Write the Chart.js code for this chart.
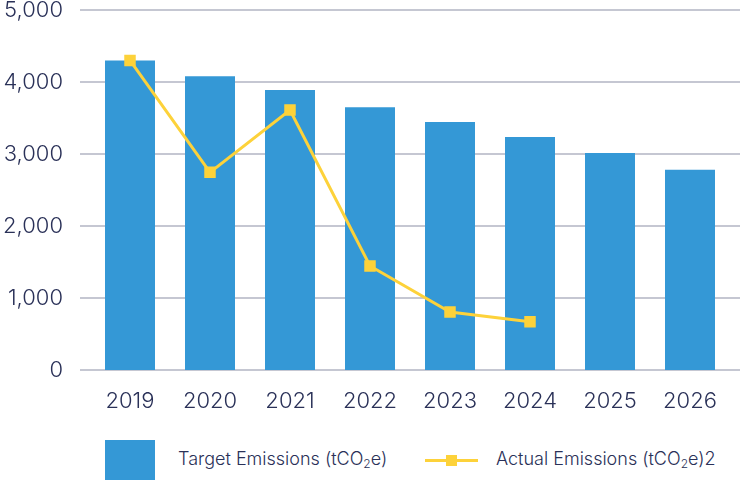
<!DOCTYPE html>
<html>
<head>
<meta charset="utf-8">
<script src="https://cdn.jsdelivr.net/npm/chart.js@4"></script>
<style>
  body { margin: 0; background: #fff; width: 740px; height: 480px; overflow: hidden; position: relative; font-family: Inter, sans-serif; }
  #wrap { position: absolute; left: 0; top: 0; width: 740px; height: 425px; }
  .legend { position: absolute; top: 440px; left: 0; width: 740px; height: 40px; color: #2a3158; font-size: 18px; font-weight: 300; }
  .swatch { position: absolute; left: 105px; top: 0; width: 50px; height: 40px; background: #3498d6; }
  .lab1 { position: absolute; left: 178px; top: 8px; white-space: nowrap; }
  .lineKey { position: absolute; left: 425px; top: 19px; width: 53px; height: 3px; background: #fdd23a; }
  .lineKey span { position: absolute; left: 21px; top: -4px; width: 11px; height: 11px; background: #fdd23a; }
  .lab2 { position: absolute; left: 496px; top: 8px; white-space: nowrap; }
  sub { font-size: 12px; vertical-align: -3px; line-height: 0; }
</style>
</head>
<body>
<div id="wrap"><canvas id="chart"></canvas></div>
<div class="legend">
  <div class="swatch"></div>
  <div class="lab1">Target Emissions (tCO<sub>2</sub>e)</div>
  <div class="lineKey"><span></span></div>
  <div class="lab2">Actual Emissions (tCO<sub>2</sub>e)2</div>
</div>
<script>
const years = ['2019', '2020', '2021', '2022', '2023', '2024', '2025', '2026'];
const targetEmissions = [4300, 4080, 3890, 3650, 3445, 3235, 3015, 2780];
const actualEmissions = [4300, 2745, 3610, 1445, 805, 670, null, null];

// gridlines drawn a bit wider than the plot area, like the original
const gridPlugin = {
  id: 'wideGrid',
  beforeDatasetsDraw(chart) {
    const ctx = chart.ctx;
    const y = chart.scales.y;
    ctx.save();
    ctx.strokeStyle = '#c5c7d2';
    ctx.lineWidth = 2;
    y.ticks.forEach(t => {
      const py = Math.round(y.getPixelForValue(t.value));
      ctx.beginPath();
      ctx.moveTo(80, py);
      ctx.lineTo(740, py);
      ctx.stroke();
    });
    ctx.restore();
  }
};

const tickFont = { family: 'Inter', size: 22, weight: 300 };

new Chart(document.getElementById('chart'), {
  type: 'bar',
  data: {
    labels: years,
    datasets: [
      {
        type: 'line',
        label: 'Actual Emissions (tCO₂e)2',
        data: actualEmissions,
        borderColor: '#fdd23a',
        backgroundColor: '#fdd23a',
        borderWidth: 3,
        pointStyle: 'rect',
        pointRadius: 6,
        pointHoverRadius: 6,
        tension: 0,
        spanGaps: false,
        order: 0
      },
      {
        label: 'Target Emissions (tCO₂e)',
        data: targetEmissions,
        backgroundColor: '#3498d6',
        barPercentage: 0.625,
        categoryPercentage: 1,
        order: 1
      }
    ]
  },
  options: {
    responsive: true,
    maintainAspectRatio: false,
    animation: false,
    layout: { padding: { top: 10, right: 10, left: 0, bottom: 0 } },
    plugins: {
      legend: { display: false },
      tooltip: { enabled: false }
    },
    scales: {
      x: {
        grid: { display: false, drawTicks: false },
        border: { display: false },
        ticks: { color: '#2a3158', font: tickFont, padding: 18 },
        afterFit(scale) { scale.height = 55; }
      },
      y: {
        min: 0,
        max: 5000,
        grid: { display: false, drawTicks: false },
        border: { display: false },
        ticks: {
          stepSize: 1000,
          color: '#2a3158',
          font: tickFont,
          padding: 27,
          callback: v => v.toLocaleString('en-US')
        },
        afterFit(scale) { scale.width = 90; scale.paddingTop = 0; scale.paddingBottom = 0; }
      }
    }
  },
  plugins: [gridPlugin]
});
</script>
</body>
</html>
